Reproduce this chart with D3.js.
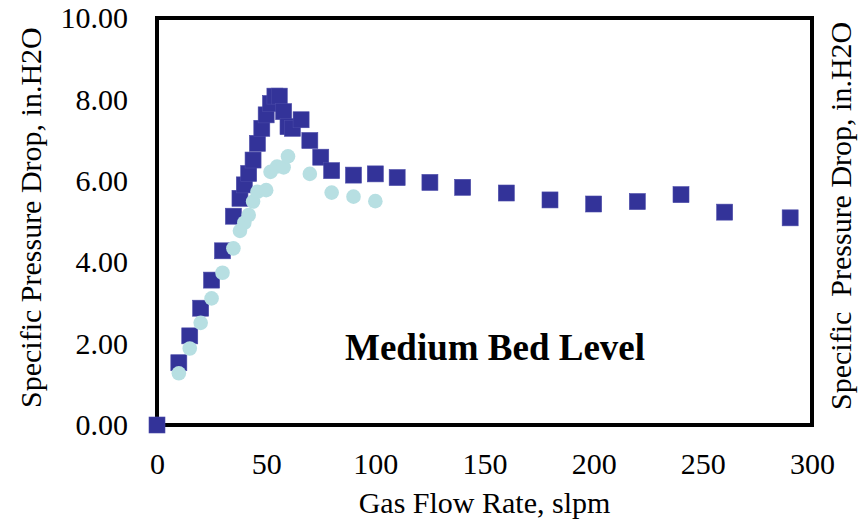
<!DOCTYPE html>
<html>
<head>
<meta charset="utf-8">
<script src="https://cdn.jsdelivr.net/npm/d3@7"></script>
<style>
  body { margin: 0; background: #fff; }
  text { font-family: "Liberation Serif", "Times New Roman", serif; fill: #000; }
</style>
</head>
<body>
<svg width="858" height="523"></svg>
<script>
// square series (dark blue)
var sqFlow = [0, 10, 15, 20, 25, 30, 35, 38, 40, 42, 44, 46, 48, 50, 52, 54, 56, 58, 60, 62,
              66, 70, 75, 80, 90, 100, 110, 125, 140, 160, 180, 200, 220, 240, 260, 290];
var sqDrop = [0, 1.53, 2.19, 2.87, 3.56, 4.28, 5.13, 5.57, 5.90, 6.18, 6.51, 6.92, 7.29, 7.62, 7.90, 8.08, 8.08, 7.70, 7.33, 7.29,
              7.50, 6.99, 6.58, 6.25, 6.14, 6.17, 6.08, 5.96, 5.84, 5.70, 5.53, 5.43, 5.49, 5.66, 5.23, 5.09];

// circle series (light cyan)
var ciFlow = [10, 15, 20, 25, 30, 35, 38, 40, 42, 44, 46, 50, 52, 55, 58, 60, 70, 80, 90, 100];
var ciDrop = [1.27, 1.88, 2.51, 3.11, 3.74, 4.34, 4.77, 4.97, 5.16, 5.49, 5.73, 5.77, 6.22, 6.35, 6.33, 6.60, 6.17, 5.71, 5.61, 5.50];

var xTicks = [0, 50, 100, 150, 200, 250, 300],
    yTicks = [0, 2, 4, 6, 8, 10];

var xTitle = "Gas Flow Rate, slpm",
    yTitle = "Specific Pressure Drop, in.H2O",
    y2Title = "Specific  Pressure Drop, in.H2O",
    label = "Medium Bed Level";

var svg = d3.select("svg"),
    margin = {top: 18, right: 46, bottom: 98, left: 157},
    width = +svg.attr("width") - margin.left - margin.right,
    height = +svg.attr("height") - margin.top - margin.bottom;

var x = d3.scaleLinear().domain([0, 300]).range([0, width]),
    y = d3.scaleLinear().domain([0, 10]).range([height, 0]);

var g = svg.append("g")
    .attr("transform", "translate(" + margin.left + "," + margin.top + ")");

g.append("g")
    .attr("transform", "translate(0," + height + ")")
    .call(d3.axisBottom(x).tickValues(xTicks).tickSize(0).tickPadding(28))
    .call(function(a) {
      a.select(".domain").remove();
      a.selectAll("text").style("font-size", "30px").attr("fill", "#000");
    });

g.append("g")
    .call(d3.axisLeft(y).tickValues(yTicks).tickSize(0).tickPadding(29).tickFormat(d3.format(".2f")))
    .call(function(a) {
      a.select(".domain").remove();
      a.selectAll("text").style("font-size", "30px").attr("fill", "#000");
    });

// plot frame
g.append("rect")
    .attr("x", 0)
    .attr("y", 0)
    .attr("width", width)
    .attr("height", height)
    .attr("fill", "none")
    .attr("stroke", "#000")
    .attr("stroke-width", 4);

var sq = 16;
g.selectAll(".sq")
    .data(d3.zip(sqFlow, sqDrop))
    .enter().append("rect")
    .attr("class", "sq")
    .attr("x", function(d) { return x(d[0]) - sq / 2; })
    .attr("y", function(d) { return y(d[1]) - sq / 2; })
    .attr("width", sq)
    .attr("height", sq)
    .attr("fill", "#333399")
    .attr("stroke", "#4a4aa8")
    .attr("stroke-width", 0.6);

g.selectAll(".ci")
    .data(d3.zip(ciFlow, ciDrop))
    .enter().append("circle")
    .attr("class", "ci")
    .attr("cx", function(d) { return x(d[0]); })
    .attr("cy", function(d) { return y(d[1]); })
    .attr("r", 7.3)
    .attr("fill", "#b7dfe2");

g.append("text")
    .attr("x", 338)
    .attr("y", 342)
    .attr("text-anchor", "middle")
    .style("font-size", "37px")
    .style("font-weight", "bold")
    .text(label);

svg.append("text")
    .attr("x", margin.left + width / 2)
    .attr("y", 513)
    .attr("text-anchor", "middle")
    .style("font-size", "30px")
    .text(xTitle);

svg.append("text")
    .attr("transform", "translate(41,408) rotate(-90)")
    .attr("text-anchor", "start")
    .style("font-size", "30px")
    .text(yTitle);

// secondary axis title, no ticks on that side
svg.append("text")
    .attr("transform", "translate(851,410) rotate(-90)")
    .attr("text-anchor", "start")
    .style("font-size", "30px")
    .style("white-space", "pre")
    .text(y2Title);
</script>
</body>
</html>
